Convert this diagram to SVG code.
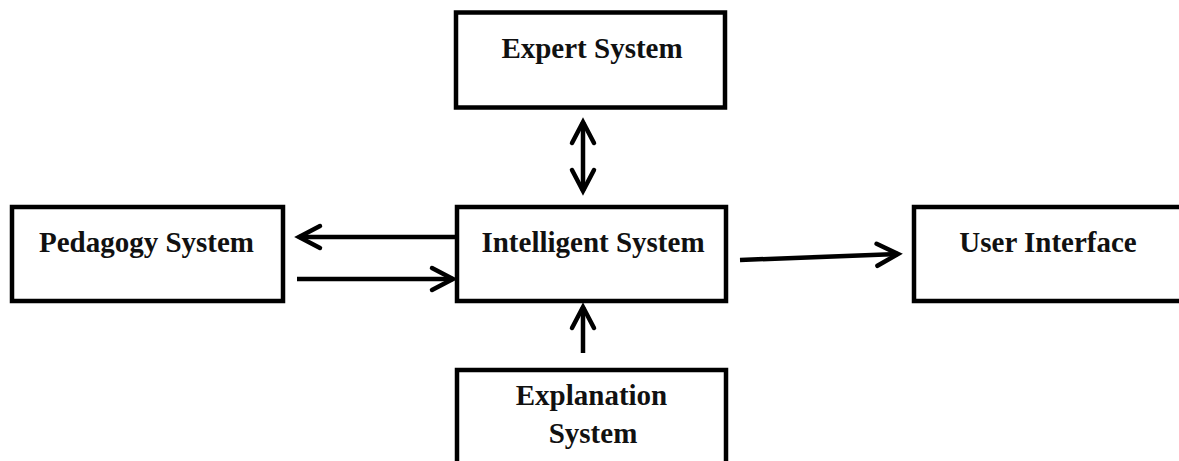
<svg xmlns="http://www.w3.org/2000/svg" width="1179" height="461" viewBox="0 0 1179 461">
<style>
.box{fill:#fff;stroke:#000;stroke-width:4.5}
.lbl{font-family:"Liberation Serif","Times New Roman",serif;font-weight:bold;font-size:29px;fill:#111;text-anchor:middle}
.con{stroke:#000;stroke-width:4.5;fill:none}
</style>
<defs>
<marker id="ah" markerUnits="userSpaceOnUse" orient="auto-start-reverse" refX="0" refY="0" markerWidth="40" markerHeight="40" viewBox="-30 -20 40 40" overflow="visible">
<path d="M-21,-11 L0,0 L-21,11" fill="none" stroke="#000" stroke-width="4.5" stroke-linecap="round" stroke-linejoin="miter"/>
</marker>
</defs>
<rect width="1179" height="461" fill="#fff"/>
<g id="expert"><rect class="box" x="456" y="12.5" width="269" height="95"/><text class="lbl" x="592" y="58">Expert System</text></g>
<g id="pedagogy"><rect class="box" x="12" y="207" width="271" height="94"/><text class="lbl" x="146.5" y="252">Pedagogy System</text></g>
<g id="intelligent"><rect class="box" x="457" y="207" width="269" height="94"/><text class="lbl" x="593" y="252">Intelligent System</text></g>
<g id="user"><rect class="box" x="914" y="207" width="290" height="94"/><text class="lbl" x="1048" y="252">User Interface</text></g>
<g id="explanation"><rect class="box" x="457" y="370" width="269" height="110"/><text class="lbl" x="591.5" y="405">Explanation</text><text class="lbl" x="593" y="443">System</text></g>
<g id="connectors">
<line class="con" x1="583" y1="122" x2="583" y2="191" marker-start="url(#ah)" marker-end="url(#ah)"/>
<line class="con" x1="455" y1="237" x2="299" y2="237" marker-end="url(#ah)"/>
<line class="con" x1="297" y1="279" x2="453" y2="279" marker-end="url(#ah)"/>
<line class="con" x1="740" y1="260" x2="898" y2="254" marker-end="url(#ah)"/>
<line class="con" x1="583" y1="353" x2="583" y2="307" marker-end="url(#ah)"/>
</g>
</svg>
